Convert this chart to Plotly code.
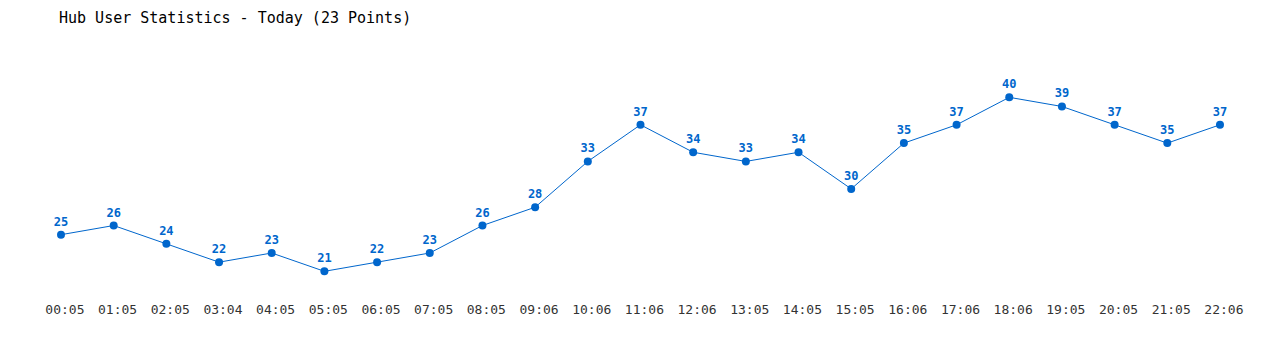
import plotly.graph_objects as go

times = ["00:05", "01:05", "02:05", "03:04", "04:05", "05:05", "06:05", "07:05",
         "08:05", "09:06", "10:06", "11:06", "12:06", "13:05", "14:05", "15:05",
         "16:06", "17:06", "18:06", "19:05", "20:05", "21:05", "22:06"]
users = [25, 26, 24, 22, 23, 21, 22, 23, 26, 28, 33, 37, 34, 33, 34, 30,
         35, 37, 40, 39, 37, 35, 37]

idx = list(range(len(times)))
color = "#0066cc"

fig = go.Figure()
fig.add_trace(go.Scatter(
    x=idx, y=users, mode="lines+markers+text",
    line=dict(color=color, width=1),
    marker=dict(color=color, size=8),
    text=[str(v) for v in users],
    textposition="top center",
    textfont=dict(family="DejaVu Sans Mono", size=12, color=color, weight="bold"),
    hoverinfo="skip",
))

fig.update_layout(
    width=1280, height=350,
    margin=dict(l=40, r=40, t=40, b=60),
    paper_bgcolor="white", plot_bgcolor="white",
    showlegend=False,
    title=dict(text="Hub User Statistics - Today (23 Points)",
               font=dict(family="DejaVu Sans Mono", size=15, color="#000000"),
               xref="container", x=59/1280, xanchor="left",
               yref="container", y=1-18/350, yanchor="middle"),
    xaxis=dict(range=[-0.3986, 22.38], tickmode="array", tickvals=idx,
               ticktext=["\u00a0" + t for t in times],
               showgrid=False, zeroline=False, showline=False, ticks="",
               ticklabelstandoff=10,
               tickfont=dict(family="DejaVu Sans Mono", size=13, color="#333333")),
    yaxis=dict(range=[18.96, 46.26], visible=False, showgrid=False, zeroline=False),
)

fig.write_html("out.html")
